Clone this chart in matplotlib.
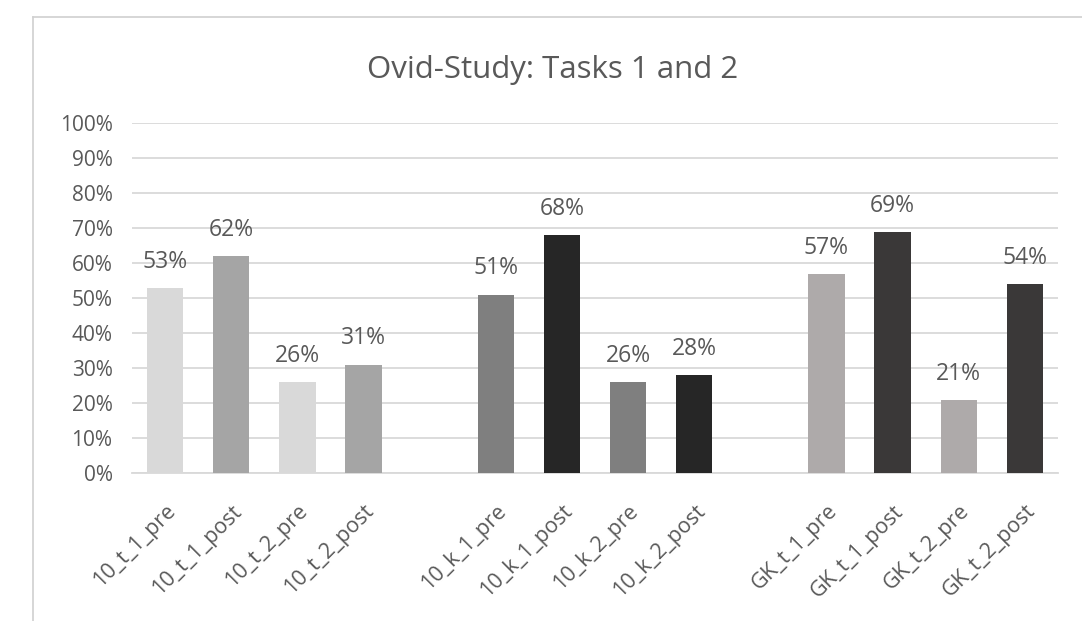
import matplotlib
matplotlib.use("Agg")
import matplotlib.pyplot as plt
from matplotlib.lines import Line2D

plt.rcParams['font.family'] = ['Open Sans', 'DejaVu Sans']

categories = ["10_t_1_pre", "10_t_1_post", "10_t_2_pre", "10_t_2_post",
              "", 
              "10_k_1_pre", "10_k_1_post", "10_k_2_pre", "10_k_2_post",
              "",
              "GK_t_1_pre", "GK_t_1_post", "GK_t_2_pre", "GK_t_2_post"]
values = [0.53, 0.62, 0.26, 0.31,
          None,
          0.51, 0.68, 0.26, 0.28,
          None,
          0.57, 0.69, 0.21, 0.54]
colors = ["#d9d9d9", "#a5a5a5", "#d9d9d9", "#a5a5a5",
          None,
          "#7f7f7f", "#262626", "#7f7f7f", "#262626",
          None,
          "#aeaaaa", "#3a3838", "#aeaaaa", "#3a3838"]
yticks = [0, 0.1, 0.2, 0.3, 0.4, 0.5, 0.6, 0.7, 0.8, 0.9, 1.0]
title = "Ovid-Study: Tasks 1 and 2"

W, H = 1082, 621
fig = plt.figure(figsize=(W/100, H/100), dpi=100)
ax = fig.add_axes([132/W, (H-473)/H, (1058-132)/W, (473-123)/H])

xs = [i for i, v in enumerate(values) if v is not None]
vs = [v for v in values if v is not None]
cs = [c for c in colors if c is not None]
bars = ax.bar(xs, vs, width=0.55, color=cs, zorder=3)

for x, v in zip(xs, vs):
    ax.text(x, v + 0.04, f"{round(v*100)}%", ha='center', va='bottom',
            fontsize=16.5, color='#595959', zorder=4)

ax.set_xlim(-0.5, len(categories) - 0.5)
ax.set_ylim(0, 1.0)
ax.set_yticks(yticks)
ax.set_yticklabels([f"{int(round(t*100))}%" for t in yticks], fontsize=15, color='#595959')
ax.yaxis.grid(True, color='#d9d9d9', linewidth=1.3, zorder=0)
ax.set_axisbelow(True)
ax.tick_params(axis='y', length=0, pad=14)
ax.set_xticks(xs)
ax.set_xticklabels([c for c in categories if c], rotation=45, ha='right',
                   rotation_mode='anchor', fontsize=15.5, color='#595959')
ax.tick_params(axis='x', length=0, pad=20)
for s in ['top', 'right', 'left']:
    ax.spines[s].set_visible(False)
ax.spines['bottom'].set_color('#d9d9d9')
ax.spines['bottom'].set_linewidth(1.3)

fig.text(553/W, 1 - 70/H, title, ha='center', va='center', fontsize=22.5, color='#595959')

# chart frame
fig.add_artist(Line2D([33/W, 33/W], [0, 1 - 17/H], color='#d0d0d0', linewidth=1.2, transform=fig.transFigure))
fig.add_artist(Line2D([33/W, 1], [1 - 17/H, 1 - 17/H], color='#d0d0d0', linewidth=1.2, transform=fig.transFigure))

fig.savefig("out.png", dpi=100)
